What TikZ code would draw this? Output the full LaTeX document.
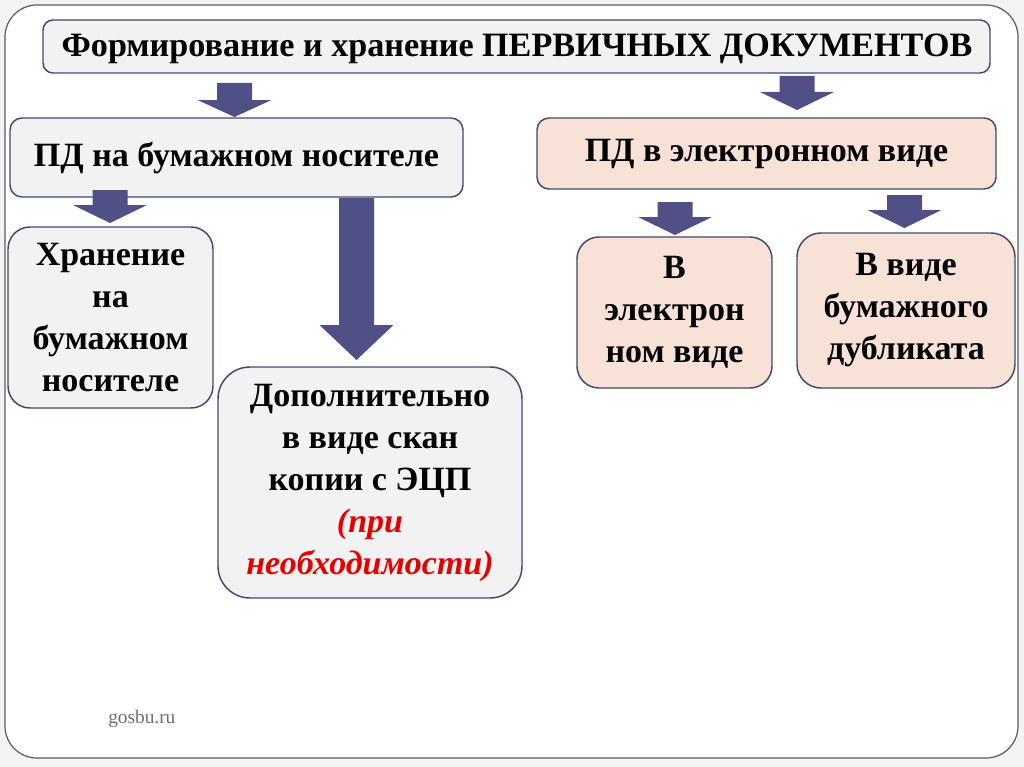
\documentclass[tikz,border=0pt]{standalone}
\usepackage{fontspec}
\setmainfont{Liberation Serif}
\definecolor{outbg}{RGB}{243,243,243}
\definecolor{framecol}{RGB}{90,90,90}
\definecolor{boxline}{RGB}{64,74,108}
\definecolor{grayfill}{RGB}{242,242,242}
\definecolor{peach}{RGB}{248,225,214}
\definecolor{arrowfill}{RGB}{80,80,135}
\definecolor{redtxt}{RGB}{230,0,0}
\definecolor{webgray}{RGB}{110,110,110}
\newcommand\maintext{\fontsize{25.5}{31.5}\selectfont\bfseries}
\newcommand\titletext{\fontsize{25.6}{30}\selectfont\bfseries}
\newcommand\blockarrow[4]{%
  \fill[arrowfill] (#1-17.5,#2) -- (#1+17.5,#2) -- (#1+17.5,#3) -- (#1+37,#3)
    -- (#1,#4) -- (#1-37,#3) -- (#1-17.5,#3) -- cycle;}
\tikzset{
  box/.style={draw=boxline, line width=1.1pt, rounded corners=#1, inner sep=0pt,
    align=center, font=\maintext, text=black},
  graybox/.style={box=#1, fill=grayfill},
  peachbox/.style={box=#1, fill=peach},
}
\begin{document}
\begin{tikzpicture}[x=0.75pt,y=-0.75pt]
\useasboundingbox (0,0) rectangle (1024,767);
\fill[outbg] (0,0) rectangle (1024,767);
\draw[framecol, line width=0.9pt, fill=white, rounded corners=24pt] (5,5) rectangle (1018,758);

\node[graybox=7.5pt, minimum width=710.25pt, minimum height=39.75pt]
  (top) at (516.5,46.5) {};
\node[font=\titletext, inner sep=0pt, anchor=base] (toptext) at (517,57)
  {Формирование и хранение ПЕРВИЧНЫХ ДОКУМЕНТОВ};
\node[graybox=9pt, minimum width=339.75pt, minimum height=59.25pt]
  (pd1) at (236.5,157.5) {ПД на бумажном носителе};
\node[peachbox=9pt, minimum width=344.25pt, minimum height=53.25pt]
  (pd2) at (766.5,153.5) {ПД в электронном виде};
\node[graybox=16.5pt, minimum width=153.75pt, minimum height=135.75pt]
  (hr) at (110.5,317.5) {Хранение\\на\\бумажном\\носителе};
\node[graybox=24pt, minimum width=228pt, minimum height=173.25pt]
  (dop) at (370,482.5) {Дополнительно\\в виде скан\\копии с ЭЦП\\
  \textit{\textcolor{redtxt}{(при}}\\\textit{\textcolor{redtxt}{необходимости)}}};
\node[peachbox=16.5pt, minimum width=146.25pt, minimum height=113.25pt]
  (el) at (674.5,312.5) {В\\электрон\\ном виде};
\node[peachbox=18pt, minimum width=163.5pt, minimum height=116.25pt]
  (dub) at (906,310.5) {В виде\\бумажного\\дубликата};

\blockarrow{234.5}{83}{100}{117}
\blockarrow{797}{76}{92}{110}
\blockarrow{110}{190}{205}{223}
\blockarrow{356.5}{198}{325}{360}
\blockarrow{675}{202}{217}{235}
\blockarrow{904.5}{195}{210}{228}

\node[anchor=base west, inner sep=0pt, text=webgray, font=\fontsize{14.5}{17}\selectfont]
  (web) at (108,723) {gosbu.ru};
\end{tikzpicture}
\end{document}
